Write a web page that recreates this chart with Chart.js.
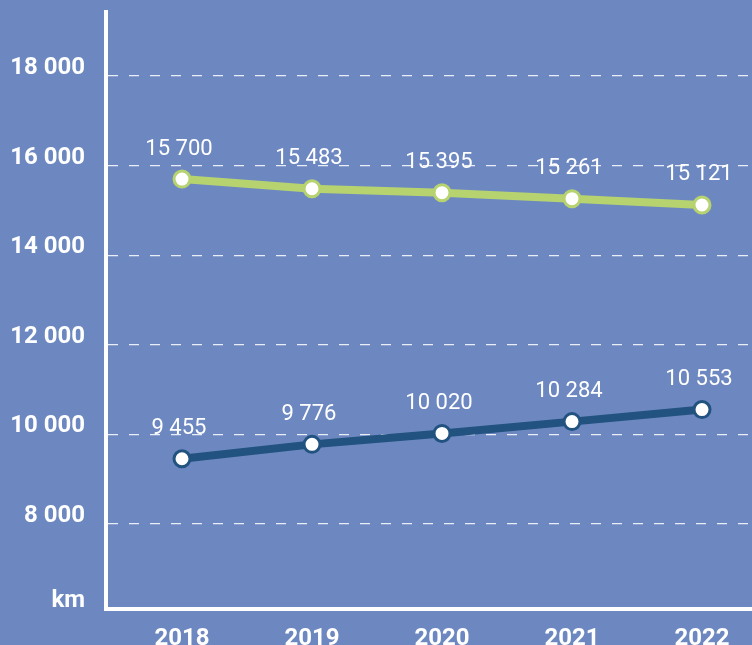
<!DOCTYPE html>
<html>
<head>
<meta charset="utf-8">
<script src="https://cdn.jsdelivr.net/npm/chart.js@4/dist/chart.umd.min.js"></script>
<style>
  html, body { margin: 0; padding: 0; background: #6d88c0; }
  #wrap { width: 752px; height: 645px; position: relative; }
</style>
</head>
<body>
<div id="wrap"><canvas id="chart"></canvas></div>
<script>
// chart data
var years = [2018, 2019, 2020, 2021, 2022];
var upperValues = [15700, 15483, 15395, 15261, 15121];
var lowerValues = [9455, 9776, 10020, 10284, 10553];
var yTicks = [6100, 8000, 10000, 12000, 14000, 16000, 18000];
var yUnit = 'km';

var greenColor = '#b6d36f';
var blueColor = '#22527f';

function fmt(v) {
    return String(Math.round(v)).replace(/\B(?=(\d{3})+(?!\d))/g, ' ');
}

function toPoints(values) {
    return values.map(function (v, i) { return { x: years[i], y: v }; });
}

// draws the value above each point
var valueLabels = {
    id: 'valueLabels',
    afterDatasetsDraw: function (chart) {
        var ctx = chart.ctx;
        ctx.save();
        ctx.font = '22px Roboto';
        ctx.fillStyle = '#ffffff';
        ctx.textAlign = 'center';
        ctx.textBaseline = 'middle';
        chart.data.datasets.forEach(function (ds, di) {
            var meta = chart.getDatasetMeta(di);
            meta.data.forEach(function (pt, i) {
                ctx.fillText(fmt(ds.data[i].y), pt.x - 3, pt.y - 30);
            });
        });
        ctx.restore();
    }
};

new Chart(document.getElementById('chart'), {
    type: 'line',
    data: {
        datasets: [{
            data: toPoints(upperValues),
            borderColor: greenColor,
            borderWidth: 8,
            pointBackgroundColor: '#ffffff',
            pointBorderColor: greenColor,
            pointBorderWidth: 3,
            pointRadius: 8,
            tension: 0
        }, {
            data: toPoints(lowerValues),
            borderColor: blueColor,
            borderWidth: 8,
            pointBackgroundColor: '#ffffff',
            pointBorderColor: blueColor,
            pointBorderWidth: 3,
            pointRadius: 8,
            tension: 0
        }]
    },
    options: {
        responsive: true,
        maintainAspectRatio: false,
        animation: false,
        layout: { autoPadding: false, padding: { top: 12, right: 0, bottom: 0, left: 0 } },
        plugins: {
            legend: { display: false },
            tooltip: { enabled: false }
        },
        scales: {
            x: {
                type: 'linear',
                min: 2018 - 76 / 130,
                max: 2022 + 50 / 130,
                afterBuildTicks: function (scale) {
                    scale.ticks = years.map(function (y) { return { value: y }; });
                },
                afterFit: function (scale) {
                    scale.height = 36;
                    scale.paddingLeft = 0;
                    scale.paddingRight = 0;
                },
                grid: { display: false, drawTicks: false },
                border: { display: true, color: '#ffffff', width: 4 },
                ticks: {
                    color: '#ffffff',
                    font: { family: 'Roboto', size: 24, weight: 'bold' },
                    padding: 16,
                    maxRotation: 0,
                    callback: function (v) { return String(v); }
                }
            },
            y: {
                min: 6100,
                max: 19430,
                afterBuildTicks: function (scale) {
                    scale.ticks = yTicks.map(function (v) { return { value: v }; });
                },
                afterFit: function (scale) {
                    scale.width = 106;
                    scale.paddingTop = 0;
                    scale.paddingBottom = 0;
                },
                grid: {
                    drawTicks: false,
                    lineWidth: 1.3,
                    color: function (c) {
                        return c.tick && c.tick.value === yTicks[0] ? 'rgba(0,0,0,0)' : 'rgba(255,255,255,0.85)';
                    }
                },
                border: { display: true, color: '#ffffff', width: 4, dash: [10, 11] },
                ticks: {
                    color: '#ffffff',
                    font: { family: 'Roboto', size: 24, weight: 'bold' },
                    padding: 21,
                    labelOffset: -8,
                    callback: function (v) { return v === yTicks[0] ? yUnit : fmt(v); }
                }
            }
        }
    },
    plugins: [valueLabels]
});
</script>
</body>
</html>
